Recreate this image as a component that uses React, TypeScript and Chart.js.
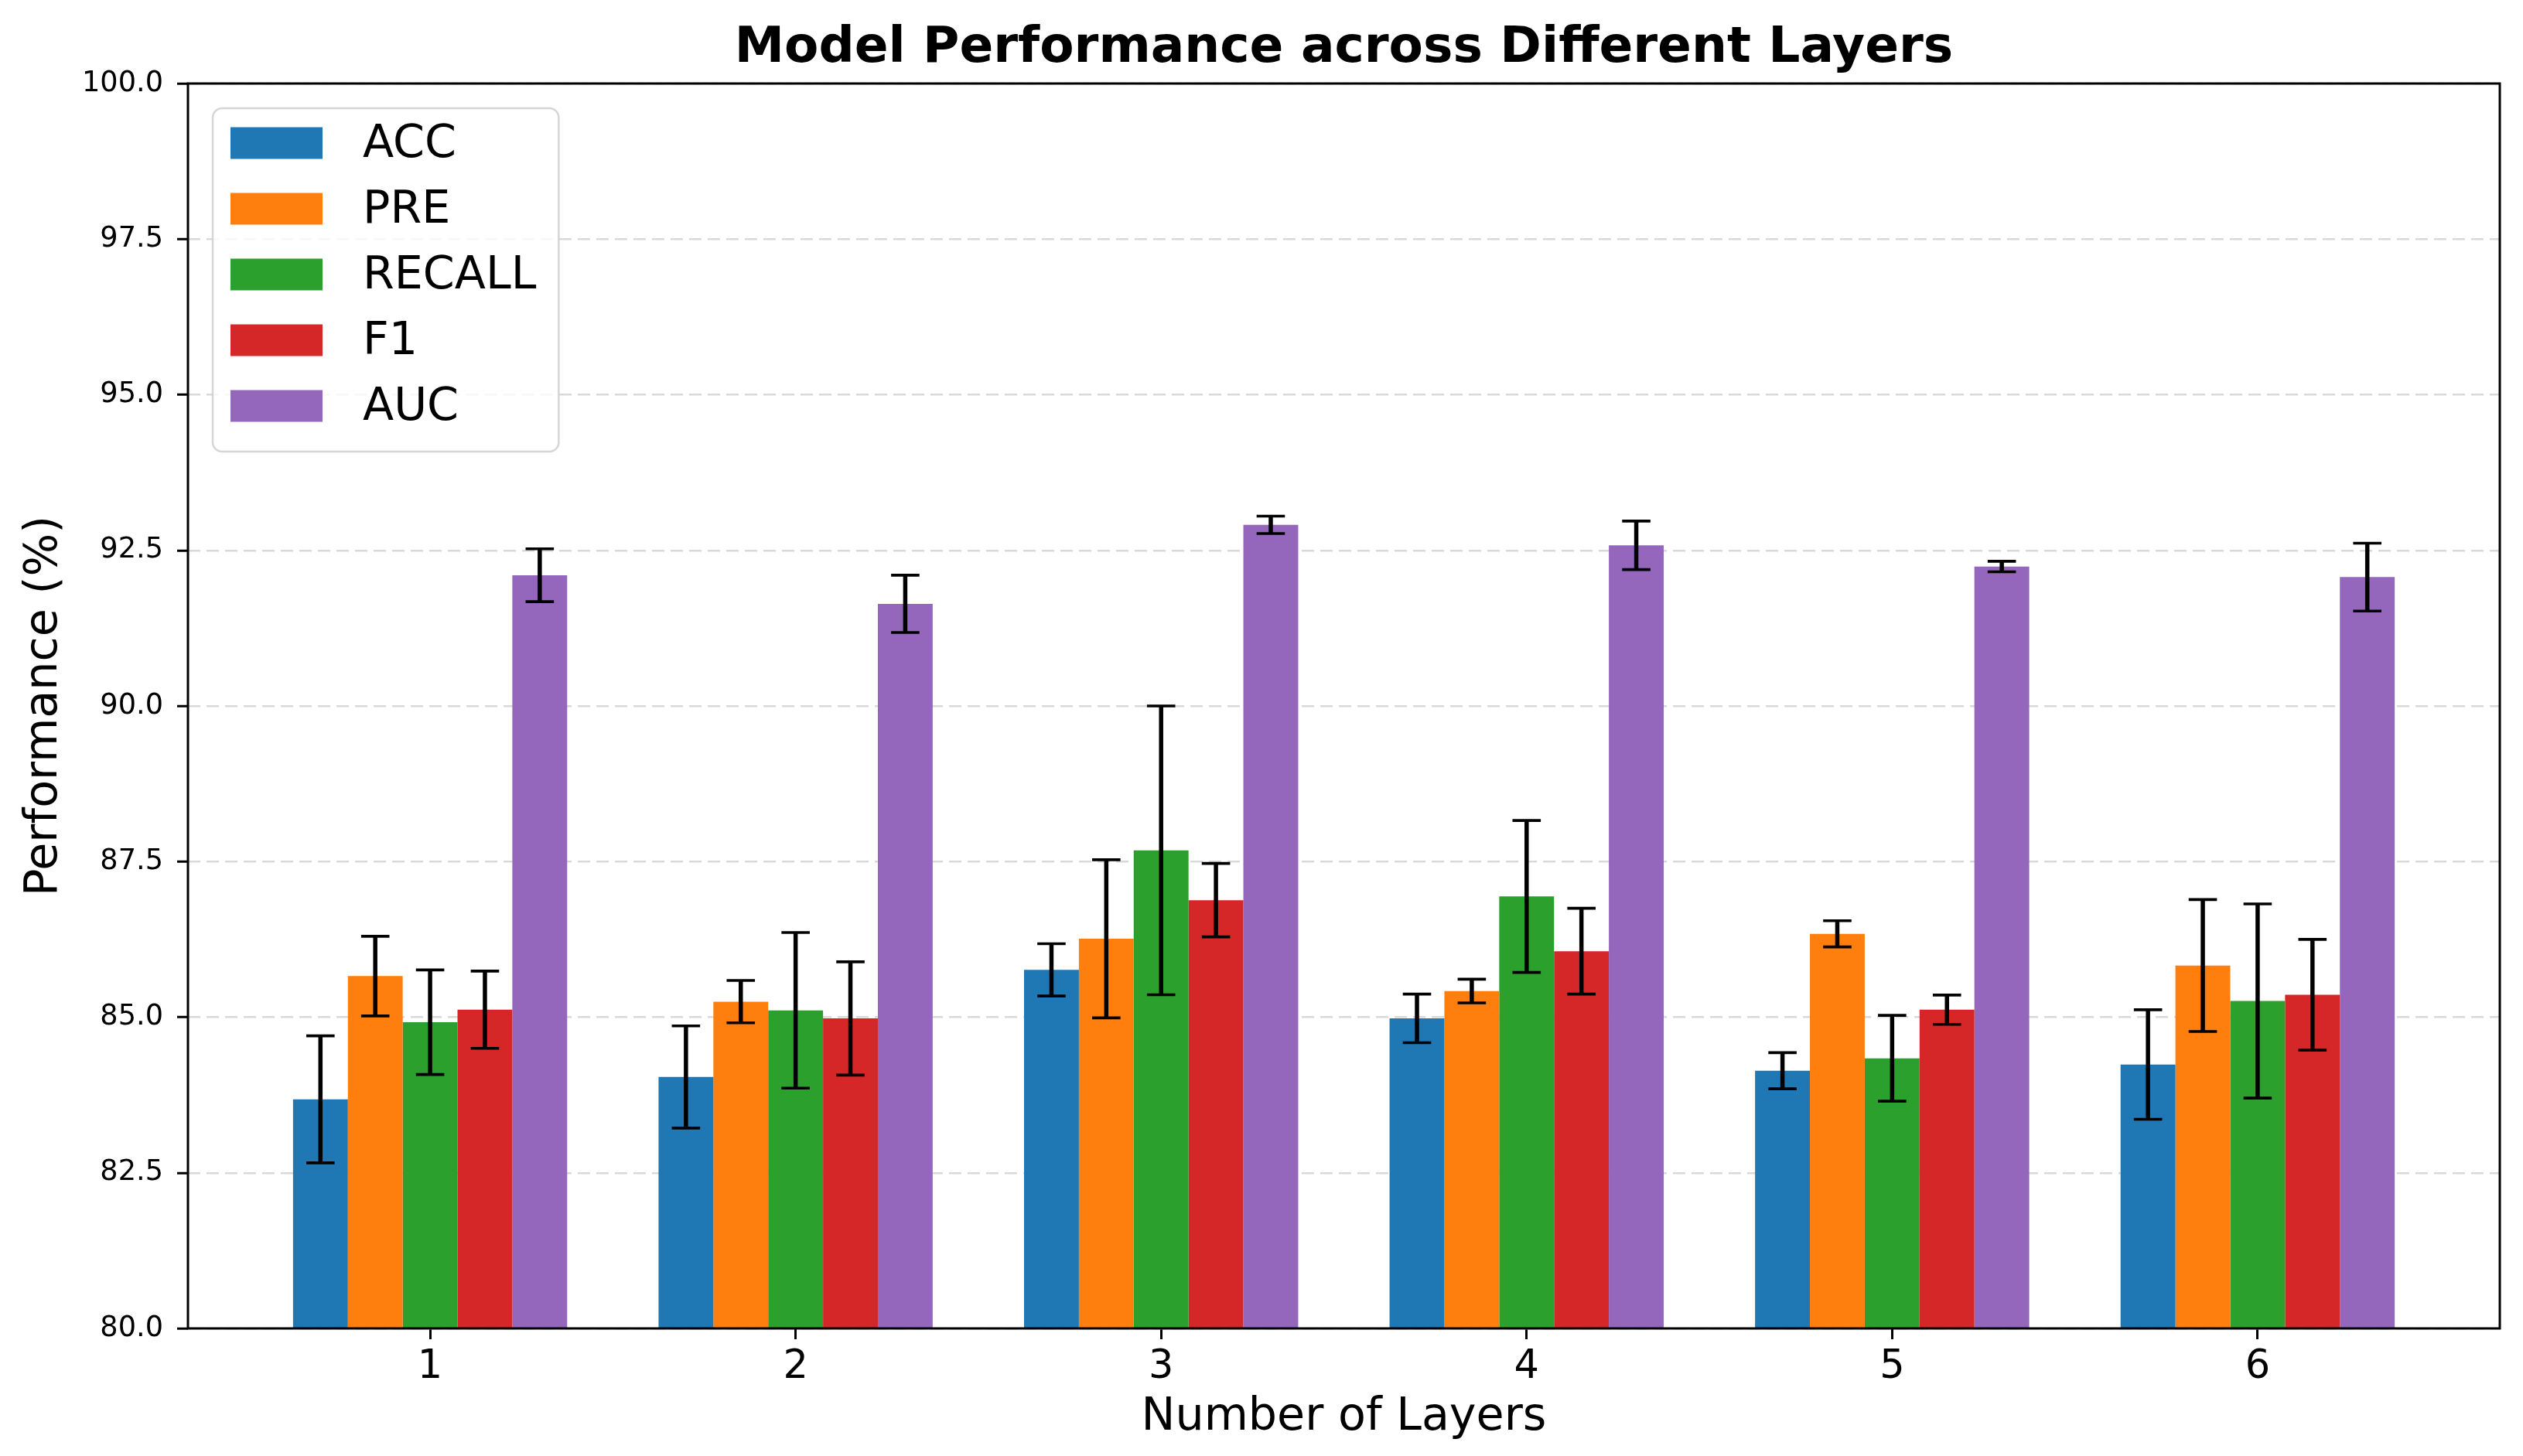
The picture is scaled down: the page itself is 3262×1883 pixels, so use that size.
import React, { useEffect, useRef } from "react";
import { Chart, registerables } from "chart.js";

Chart.register(...registerables);

// ---- data ----
const layers = [1, 2, 3, 4, 5, 6];
const seriesNames = ["ACC", "PRE", "RECALL", "F1", "AUC"];
const acc = [83.68, 84.04, 85.76, 84.98, 84.14, 84.24];
const accErr = [1.02, 0.82, 0.42, 0.39, 0.29, 0.88];
const pre = [85.66, 85.25, 86.26, 85.42, 86.34, 85.83];
const preErr = [0.64, 0.34, 1.27, 0.19, 0.21, 1.06];
const recall = [84.92, 85.11, 87.68, 86.94, 84.34, 85.26];
const recallErr = [0.84, 1.25, 2.32, 1.22, 0.69, 1.56];
const f1 = [85.12, 84.98, 86.88, 86.06, 85.12, 85.36];
const f1Err = [0.62, 0.91, 0.59, 0.69, 0.235, 0.89];
const auc = [92.1, 91.64, 92.91, 92.58, 92.24, 92.07];
const aucErr = [0.425, 0.46, 0.14, 0.39, 0.085, 0.545];
const yTicks = [80, 82.5, 85, 87.5, 90, 92.5, 95, 97.5, 100];
const colors = ["#1f77b4", "#ff7f0e", "#2ca02c", "#d62728", "#9467bd"];

const FONT = "'DejaVu Sans', 'Liberation Sans', sans-serif";
const W = 3262;
const H = 1883;

export default function App() {
  const ref = useRef<HTMLCanvasElement>(null);

  useEffect(() => {
    document.body.style.margin = "0";
    const canvas = ref.current;
    if (!canvas) return;
    const values = [acc, pre, recall, f1, auc];
    const errs = [accErr, preErr, recallErr, f1Err, aucErr];

    const datasets = seriesNames.map((name, i) => ({
      label: name,
      data: layers.map((l, j) => ({ x: l, y: values[i][j] })),
      backgroundColor: colors[i],
      borderWidth: 0,
      categoryPercentage: 0.75,
      barPercentage: 1.0,
      errors: errs[i],
    }));

    const errorBarPlugin = {
      id: "errorBars",
      afterDatasetsDraw(chart: any) {
        const ctx = chart.ctx;
        const ys = chart.scales.y;
        chart.data.datasets.forEach((ds: any, i: number) => {
          const meta = chart.getDatasetMeta(i);
          meta.data.forEach((el: any, j: number) => {
            const v = ds.data[j].y;
            const e = ds.errors[j];
            const top = ys.getPixelForValue(v + e);
            const bot = ys.getPixelForValue(v - e);
            ctx.save();
            ctx.strokeStyle = "#000";
            ctx.lineWidth = 5.5;
            ctx.beginPath();
            ctx.moveTo(el.x, top);
            ctx.lineTo(el.x, bot);
            ctx.stroke();
            ctx.lineWidth = 3.7;
            const hw = 18.3;
            ctx.beginPath();
            ctx.moveTo(el.x - hw, top);
            ctx.lineTo(el.x + hw, top);
            ctx.moveTo(el.x - hw, bot);
            ctx.lineTo(el.x + hw, bot);
            ctx.stroke();
            ctx.restore();
          });
        });
      },
    };

    const framePlugin = {
      id: "frameBox",
      afterDatasetsDraw(chart: any) {
        const { ctx, chartArea } = chart;
        ctx.save();
        ctx.strokeStyle = "#000";
        ctx.lineWidth = 3;
        ctx.strokeRect(
          chartArea.left,
          chartArea.top,
          chartArea.right - chartArea.left,
          chartArea.bottom - chartArea.top
        );
        ctx.restore();
      },
    };

    const legendPlugin = {
      id: "boxLegend",
      afterDraw(chart: any) {
        const { ctx, chartArea } = chart;
        ctx.save();
        ctx.font = `58.7px ${FONT}`;
        const fx = chartArea.left + 32;
        const fy = chartArea.top + 32;
        const handleX = fx + 23;
        const handleW = 119;
        const handleH = 41;
        const textX = fx + 194;
        const rowH = 85;
        const firstCenter = fy + 45;
        const dss = chart.data.datasets;
        let maxW = 0;
        dss.forEach((d: any) => {
          maxW = Math.max(maxW, ctx.measureText(d.label).width);
        });
        const fw = textX + maxW + 29 - fx;
        const fh = 444;
        const r = 12;
        ctx.beginPath();
        ctx.moveTo(fx + r, fy);
        ctx.lineTo(fx + fw - r, fy);
        ctx.arcTo(fx + fw, fy, fx + fw, fy + r, r);
        ctx.lineTo(fx + fw, fy + fh - r);
        ctx.arcTo(fx + fw, fy + fh, fx + fw - r, fy + fh, r);
        ctx.lineTo(fx + r, fy + fh);
        ctx.arcTo(fx, fy + fh, fx, fy + fh - r, r);
        ctx.lineTo(fx, fy + r);
        ctx.arcTo(fx, fy, fx + r, fy, r);
        ctx.closePath();
        ctx.fillStyle = "rgba(255,255,255,0.8)";
        ctx.fill();
        ctx.strokeStyle = "rgba(204,204,204,0.8)";
        ctx.lineWidth = 2.5;
        ctx.stroke();
        dss.forEach((d: any, i: number) => {
          const cy = firstCenter + i * rowH;
          ctx.fillStyle = d.backgroundColor;
          ctx.fillRect(handleX, cy - handleH / 2, handleW, handleH);
          ctx.fillStyle = "#000";
          ctx.textAlign = "left";
          ctx.textBaseline = "middle";
          ctx.fillText(d.label, textX, cy + 3);
        });
        ctx.restore();
      },
    };

    const chart = new Chart(canvas, {
      type: "bar",
      data: { datasets: datasets as any },
      options: {
        animation: false,
        responsive: false,
        devicePixelRatio: 1,
        layout: { padding: { left: 0, right: 30, top: 0, bottom: 0 } },
        plugins: {
          legend: { display: false },
          tooltip: { enabled: false },
          title: {
            display: true,
            fullSize: false,
            text: "Model Performance across Different Layers",
            color: "#000",
            font: { family: FONT, size: 64.6, weight: "bold", lineHeight: 1.0 },
            padding: { top: 31, bottom: 12.4 },
          },
        },
        scales: {
          x: {
            type: "linear",
            offset: false,
            min: 0.3375,
            max: 6.6625,
            afterBuildTicks: (s: any) => {
              s.ticks = layers.map((v) => ({ value: v }));
            },
            afterFit: (s: any) => {
              s.height = 165;
            },
            ticks: {
              color: "#000",
              font: { family: FONT, size: 51 },
              padding: 6,
              autoSkip: false,
              maxRotation: 0,
              callback: (v: any) => String(v),
            },
            grid: {
              offset: false,
              drawOnChartArea: false,
              drawTicks: true,
              tickLength: 14,
              tickColor: "#000",
              tickWidth: 3,
            },
            border: { display: false },
            title: {
              display: true,
              text: "Number of Layers",
              color: "#000",
              font: { family: FONT, size: 58.7, lineHeight: 1.2 },
              padding: { top: 0, bottom: 14 },
            },
          },
          y: {
            type: "linear",
            min: 80,
            max: 100,
            beginAtZero: false,
            afterBuildTicks: (s: any) => {
              s.ticks = yTicks.map((v) => ({ value: v }));
            },
            afterFit: (s: any) => {
              s.width = 243;
            },
            ticks: {
              color: "#000",
              font: { family: FONT, size: 36.7 },
              padding: 18,
              callback: (v: any) => Number(v).toFixed(1),
            },
            grid: {
              color: "#d9d9d9",
              lineWidth: 2.5,
              tickLength: 14,
              tickColor: "#000",
              tickWidth: 3,
              tickBorderDash: [],
            },
            border: { display: false, dash: [16, 8] },
            title: {
              display: true,
              text: "Performance (%)",
              color: "#000",
              font: { family: FONT, size: 58.7, lineHeight: 1.2 },
              padding: { top: 23, bottom: 0 },
            },
          },
        },
      } as any,
      plugins: [errorBarPlugin, framePlugin, legendPlugin],
    });

    return () => {
      chart.destroy();
    };
  }, []);

  return (
    <div style={{ position: "absolute", left: 0, top: 0, width: W, height: H, background: "#fff" }}>
      <canvas ref={ref} width={W} height={H} style={{ width: W, height: H, display: "block" }} />
    </div>
  );
}
